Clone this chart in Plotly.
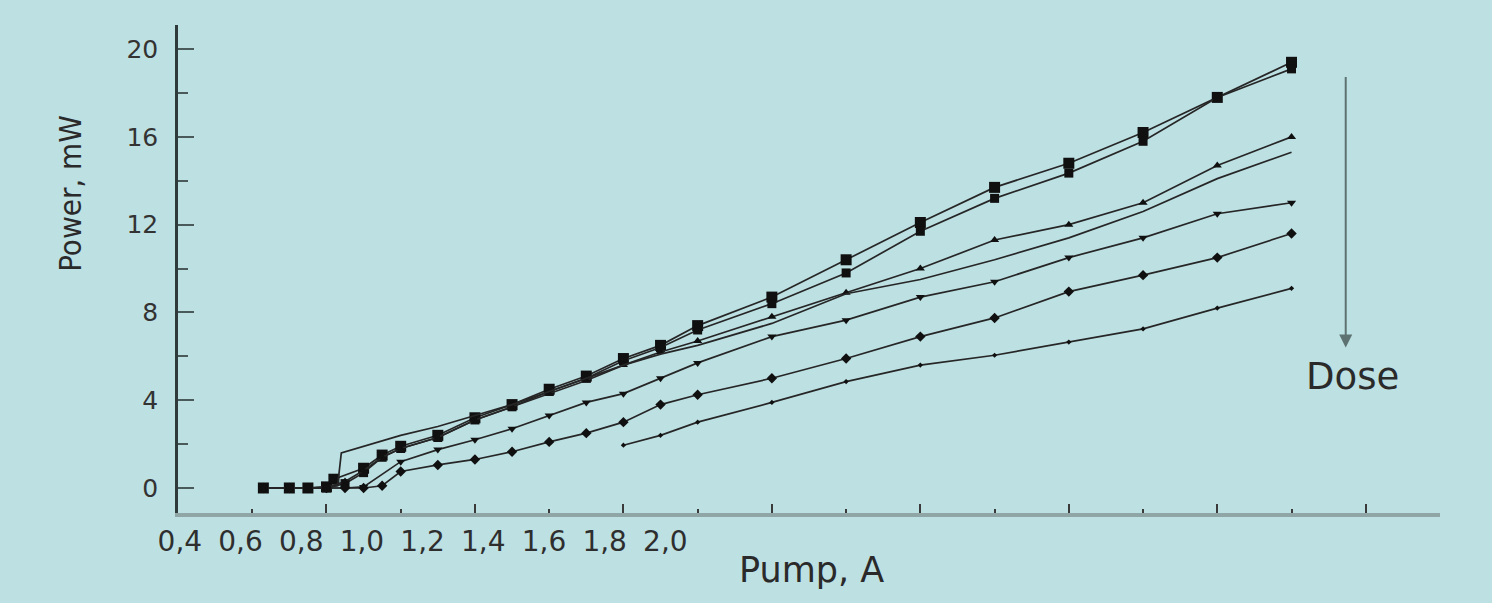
import plotly.graph_objects as go

# ---- data (Pump current, A  /  output power, mW) ----
x1 = [0.63, 0.7, 0.75, 0.8, 0.82, 0.9, 0.95, 1.0, 1.1, 1.2, 1.3, 1.4, 1.5, 1.6, 1.7, 1.8, 2.0, 2.2, 2.4, 2.6, 2.8, 3.0, 3.2, 3.4]
y1 = [0, 0, 0, 0.05, 0.4, 0.9, 1.5, 1.9, 2.4, 3.2, 3.8, 4.5, 5.1, 5.9, 6.5, 7.4, 8.7, 10.4, 12.1, 13.7, 14.8, 16.2, 17.8, 19.4]

x2 = [0.63, 0.7, 0.75, 0.8, 0.85, 0.9, 0.95, 1.0, 1.1, 1.2, 1.3, 1.4, 1.5, 1.6, 1.7, 1.8, 2.0, 2.2, 2.4, 2.6, 2.8, 3.0, 3.2, 3.4]
y2 = [0, 0, 0, 0, 0.2, 0.7, 1.4, 1.8, 2.3, 3.1, 3.7, 4.4, 5.0, 5.8, 6.4, 7.2, 8.4, 9.8, 11.7, 13.2, 14.35, 15.8, 17.8, 19.1]

x3 = [0.63, 0.7, 0.75, 0.8, 0.85, 0.9, 0.95, 1.0, 1.1, 1.2, 1.3, 1.4, 1.5, 1.6, 1.7, 1.8, 2.0, 2.2, 2.4, 2.6, 2.8, 3.0, 3.2, 3.4]
y3 = [0, 0, 0, 0, 0.3, 0.8, 1.4, 1.8, 2.3, 3.1, 3.7, 4.3, 4.9, 5.6, 6.2, 6.7, 7.8, 8.9, 10.0, 11.3, 12.0, 13.0, 14.7, 16.0]

x4 = [0.63, 0.7, 0.75, 0.8, 0.83, 0.84, 0.9, 1.0, 1.1, 1.2, 1.3, 1.4, 1.5, 1.6, 1.7, 1.8, 2.0, 2.2, 2.4, 2.6, 2.8, 3.0, 3.2, 3.4]
y4 = [0, 0, 0, 0.05, 0.1, 1.6, 1.9, 2.4, 2.8, 3.3, 3.8, 4.4, 5.0, 5.6, 6.1, 6.5, 7.5, 8.85, 9.5, 10.4, 11.4, 12.6, 14.1, 15.3]

x5 = [0.63, 0.7, 0.75, 0.8, 0.85, 0.9, 1.0, 1.1, 1.2, 1.3, 1.4, 1.5, 1.6, 1.7, 1.8, 2.0, 2.2, 2.4, 2.6, 2.8, 3.0, 3.2, 3.4]
y5 = [0, 0, 0, 0, 0, 0.05, 1.2, 1.75, 2.2, 2.7, 3.3, 3.9, 4.3, 5.0, 5.7, 6.9, 7.65, 8.7, 9.4, 10.5, 11.4, 12.5, 13.0]

x6 = [0.63, 0.7, 0.75, 0.8, 0.85, 0.9, 0.95, 1.0, 1.1, 1.2, 1.3, 1.4, 1.5, 1.6, 1.7, 1.8, 2.0, 2.2, 2.4, 2.6, 2.8, 3.0, 3.2, 3.4]
y6 = [0, 0, 0, 0, 0, 0, 0.1, 0.75, 1.05, 1.3, 1.65, 2.1, 2.5, 3.0, 3.8, 4.25, 5.0, 5.9, 6.9, 7.75, 8.95, 9.7, 10.5, 11.6]

x7 = [1.6, 1.7, 1.8, 2.0, 2.2, 2.4, 2.6, 2.8, 3.0, 3.2, 3.4]
y7 = [1.95, 2.4, 3.0, 3.9, 4.85, 5.6, 6.05, 6.65, 7.25, 8.2, 9.1]

x_tick_labels = ["0,4", "0,6", "0,8", "1,0", "1,2", "1,4", "1,6", "1,8", "2,0"]
y_tick_values = [0, 4, 8, 12, 16, 20]

# ---- style ----
BG = "#bde0e3"
INK = "#262626"
FONT = "DejaVu Sans"

series = [
    (x1, y1, "lines+markers", dict(symbol="square", size=11)),
    (x2, y2, "lines+markers", dict(symbol="square", size=9)),
    (x3, y3, "lines+markers", dict(symbol="triangle-up", size=8)),
    (x4, y4, "lines", None),
    (x5, y5, "lines+markers", dict(symbol="triangle-down", size=8)),
    (x6, y6, "lines+markers", dict(symbol="diamond", size=8)),
    (x7, y7, "lines+markers", dict(symbol="diamond", size=4)),
]

fig = go.Figure()
for xs, ys, mode, mk in series:
    kw = dict(x=xs, y=ys, mode=mode, line=dict(color=INK, width=1.7),
              showlegend=False, hoverinfo="skip")
    if mk:
        kw["marker"] = dict(color="#101010", **mk)
    fig.add_trace(go.Scatter(**kw))

# invisible trace carrying the secondary (tick-mark) x axis
fig.add_trace(go.Scatter(x=[1.0], y=[0], xaxis="x2", mode="markers",
                         marker=dict(opacity=0), showlegend=False, hoverinfo="skip"))

X_RANGE = [0.4, 3.8]
label_start, label_step = 0.405, 0.1635
label_pos = [label_start + i * label_step for i in range(len(x_tick_labels))]

fig.update_layout(
    width=1492, height=603,
    paper_bgcolor=BG, plot_bgcolor=BG,
    margin=dict(l=178, r=52, t=25, b=90),
    font=dict(family=FONT, color="#2e2e2e"),
    xaxis=dict(
        range=X_RANGE, showgrid=False, zeroline=False,
        showline=True, linecolor="#8fa5a6", linewidth=4,
        tickmode="array", tickvals=label_pos, ticktext=x_tick_labels,
        ticks="", tickfont=dict(size=28, family=FONT, color="#2e2e2e"),
        ticklabelstandoff=0,
    ),
    xaxis2=dict(
        range=X_RANGE, overlaying="x", anchor="y", side="bottom",
        showgrid=False, zeroline=False, showline=False,
        showticklabels=False,
        tickmode="linear", tick0=0.4, dtick=0.4,
        ticks="inside", ticklen=9, tickwidth=2, tickcolor="#3a3a3a",
        minor=dict(dtick=0.2, tick0=0.4, ticks="inside", ticklen=4,
                   tickwidth=2, tickcolor="#3a3a3a"),
    ),
    yaxis=dict(
        range=[-1.14, 21.1], showgrid=False, zeroline=False,
        showline=True, linecolor="#2f3b3b", linewidth=2.5,
        tickmode="array", tickvals=y_tick_values,
        ticks="inside", ticklen=16, tickwidth=1.5, tickcolor="#4a5a5a",
        minor=dict(dtick=2, tick0=0, ticks="inside", ticklen=10,
                   tickwidth=1.5, tickcolor="#4a5a5a"),
        tickfont=dict(size=25, family=FONT, color="#333333"),
        ticklabelstandoff=12,
    ),
    annotations=[
        dict(text="Power, mW", textangle=-90, xref="paper", yref="paper",
             x=-0.0856, y=0.656, showarrow=False,
             font=dict(size=31, family="Liberation Sans Narrow, DejaVu Sans Condensed",
                       color="#2a2a2a"),
             xanchor="center", yanchor="middle"),
        dict(text="Pump, A", xref="paper", yref="paper", x=0.502, y=-0.117,
             showarrow=False, font=dict(size=35, family=FONT, color="#2a2a2a"),
             xanchor="center", yanchor="middle"),
        dict(text="Dose", xref="x", yref="y", x=3.565, y=5.1, showarrow=False,
             font=dict(size=37, family=FONT, color="#2a2a2a"),
             xanchor="center", yanchor="middle"),
        dict(text="", xref="x", yref="y", x=3.546, y=6.4,
             axref="x", ayref="y", ax=3.546, ay=18.8,
             showarrow=True, arrowhead=2, arrowsize=1.3, arrowwidth=2,
             arrowcolor="#5f7272"),
    ],
)

fig.write_html("out.html",
               config={"displayModeBar": False},
               post_script="document.body.style.margin='0';document.body.style.overflow='hidden';")
